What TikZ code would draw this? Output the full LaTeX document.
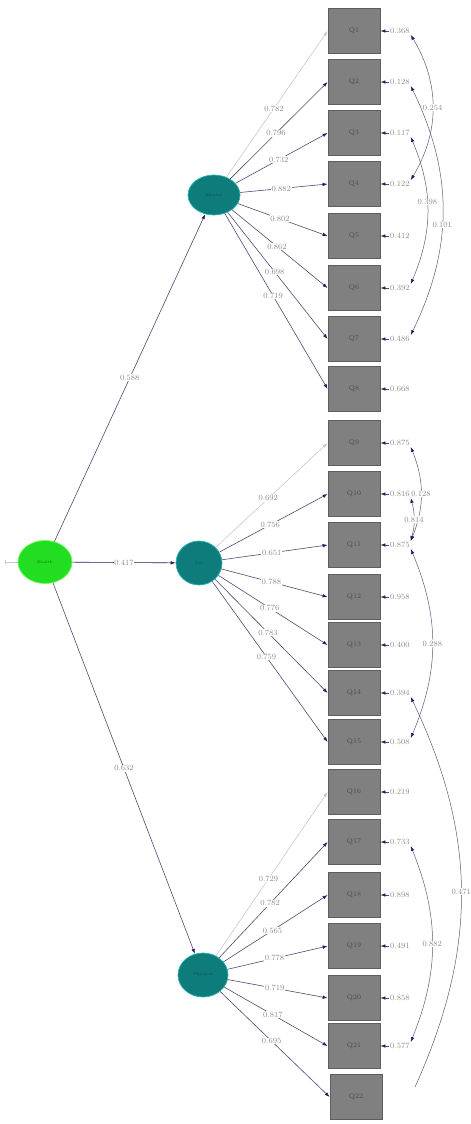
\documentclass[tikz,border=0pt]{standalone}
\usetikzlibrary{arrows.meta,shapes.geometric}
\definecolor{boxgray}{HTML}{808080}
\definecolor{boxedge}{HTML}{5E5E5E}
\definecolor{boxtext}{HTML}{4A4A4A}
\definecolor{latfill}{HTML}{0E7C7B}
\definecolor{latedge}{HTML}{2BB3B3}
\definecolor{lattext}{HTML}{0A4A4A}
\definecolor{exofill}{HTML}{22DD22}
\definecolor{exoedge}{HTML}{66FF55}
\definecolor{exotext}{HTML}{127012}
\definecolor{loadcol}{HTML}{4B4B78}
\definecolor{fixcol}{HTML}{C8C8C8}
\definecolor{arrnavy}{HTML}{20205A}
\definecolor{labgray}{HTML}{8C8C8C}
\definecolor{covcol}{HTML}{5A5A80}
\tikzset{navyhead/.tip={Latex[length=5pt,width=3.5pt,color=arrnavy]},
  grayhead/.tip={Latex[length=5pt,width=3.5pt,color=fixcol]}}
\begin{document}
\begin{tikzpicture}[x=1pt,y=-1pt,
  obsbox/.style={draw=boxedge,fill=boxgray,line width=0.8pt,minimum width=52pt,minimum height=45pt,inner sep=0pt,font=\fontsize{7}{8}\selectfont,text=boxtext},
  latent/.style={ellipse,draw=latedge,fill=latfill,line width=0.7pt,inner sep=0pt,font=\fontsize{4}{5}\selectfont,text=lattext},
  exogen/.style={ellipse,draw=exoedge,fill=exofill,line width=0.7pt,inner sep=0pt,minimum width=54pt,minimum height=43pt,font=\fontsize{4}{5}\selectfont,text=exotext},
  lab/.style={fill=white,inner sep=0.6pt,font=\fontsize{8}{9}\selectfont,text=labgray},
  errlab/.style={anchor=west,inner sep=1pt,font=\fontsize{8}{9}\selectfont,text=labgray},
  loadline/.style={draw=loadcol,line width=0.6pt,-navyhead},
  fixline/.style={draw=fixcol,line width=0.6pt,-grayhead},
  errline/.style={draw=loadcol,line width=0.6pt,-navyhead},
  covline/.style={draw=covcol,line width=0.5pt,navyhead-navyhead}]
\useasboundingbox (0,0) rectangle (471,1124);
\node[obsbox] (Q1) at (354,31) {Q1};
\node[obsbox] (Q2) at (354,82) {Q2};
\node[obsbox] (Q3) at (354,133) {Q3};
\node[obsbox] (Q4) at (354,184) {Q4};
\node[obsbox] (Q5) at (354,236) {Q5};
\node[obsbox] (Q6) at (354,288) {Q6};
\node[obsbox] (Q7) at (354,339) {Q7};
\node[obsbox] (Q8) at (354,389) {Q8};
\node[obsbox] (Q9) at (354,443) {Q9};
\node[obsbox] (Q10) at (354,494) {Q10};
\node[obsbox] (Q11) at (354,545) {Q11};
\node[obsbox] (Q12) at (354,597) {Q12};
\node[obsbox] (Q13) at (354,645) {Q13};
\node[obsbox] (Q14) at (354,693) {Q14};
\node[obsbox] (Q15) at (354,742) {Q15};
\node[obsbox] (Q16) at (354,792) {Q16};
\node[obsbox] (Q17) at (354,842) {Q17};
\node[obsbox] (Q18) at (354,895) {Q18};
\node[obsbox] (Q19) at (354,946) {Q19};
\node[obsbox] (Q20) at (354,998) {Q20};
\node[obsbox] (Q21) at (354,1046) {Q21};
\node[obsbox] (Q22) at (356,1097) {Q22};
\node[latent,minimum width=52pt,minimum height=40pt] (mental) at (214,195) {Mental};
\node[latent,minimum width=46pt,minimum height=44pt] (social) at (199,563) {Soc};
\node[latent,minimum width=50pt,minimum height=44pt] (physical) at (203,975) {Physical};
\node[exogen] (health) at (45,562) {Health};
\coordinate (stub) at (5,562);
\draw[draw=fixcol,line width=0.6pt,{Bar[width=4pt]}-] (stub) -- (health);
\draw[loadline] (health) -- node[lab] {0.588} (mental);
\draw[loadline,draw=arrnavy] (health) -- node[lab] {0.417} (social);
\draw[loadline] (health) -- node[lab] {0.632} (physical);
\draw[fixline] (mental) -- node[lab,pos=0.47] {0.782} (Q1.west);
\draw[loadline] (mental) -- node[lab,pos=0.47] {0.796} (Q2.west);
\draw[loadline] (mental) -- node[lab,pos=0.47] {0.732} (Q3.west);
\draw[loadline] (mental) -- node[lab,pos=0.47] {0.882} (Q4.west);
\draw[loadline] (mental) -- node[lab,pos=0.47] {0.802} (Q5.west);
\draw[loadline] (mental) -- node[lab,pos=0.47] {0.862} (Q6.west);
\draw[loadline] (mental) -- node[lab,pos=0.47] {0.698} (Q7.west);
\draw[loadline] (mental) -- node[lab,pos=0.47] {0.719} (Q8.west);
\draw[fixline] (social) -- node[lab,pos=0.47] {0.692} (Q9.west);
\draw[loadline] (social) -- node[lab,pos=0.47] {0.756} (Q10.west);
\draw[loadline] (social) -- node[lab,pos=0.47] {0.651} (Q11.west);
\draw[loadline] (social) -- node[lab,pos=0.47] {0.788} (Q12.west);
\draw[loadline] (social) -- node[lab,pos=0.47] {0.776} (Q13.west);
\draw[loadline] (social) -- node[lab,pos=0.47] {0.783} (Q14.west);
\draw[loadline] (social) -- node[lab,pos=0.47] {0.759} (Q15.west);
\draw[fixline] (physical) -- node[lab,pos=0.47] {0.729} (Q16.west);
\draw[loadline] (physical) -- node[lab,pos=0.47] {0.782} (Q17.west);
\draw[loadline] (physical) -- node[lab,pos=0.47] {0.565} (Q18.west);
\draw[loadline] (physical) -- node[lab,pos=0.47] {0.778} (Q19.west);
\draw[loadline] (physical) -- node[lab,pos=0.47] {0.719} (Q20.west);
\draw[loadline] (physical) -- node[lab,pos=0.47] {0.817} (Q21.west);
\draw[loadline] (physical) -- node[lab,pos=0.47] {0.695} (Q22.west);
\node[errlab] (e1) at (389,31) {0.368};
\node[errlab] (e2) at (389,82) {0.128};
\node[errlab] (e3) at (389,133) {0.117};
\node[errlab] (e4) at (389,184) {0.122};
\node[errlab] (e5) at (389,236) {0.412};
\node[errlab] (e6) at (389,288) {0.392};
\node[errlab] (e7) at (389,339) {0.486};
\node[errlab] (e8) at (389,389) {0.668};
\node[errlab] (e9) at (389,443) {0.875};
\node[errlab] (e10) at (389,494) {0.816};
\node[errlab] (e11) at (389,545) {0.875};
\node[errlab] (e12) at (389,597) {0.958};
\node[errlab] (e13) at (389,645) {0.400};
\node[errlab] (e14) at (389,693) {0.394};
\node[errlab] (e15) at (389,742) {0.508};
\node[errlab] (e16) at (389,792) {0.219};
\node[errlab] (e17) at (389,842) {0.733};
\node[errlab] (e18) at (389,895) {0.898};
\node[errlab] (e19) at (389,946) {0.491};
\node[errlab] (e20) at (389,998) {0.858};
\node[errlab] (e21) at (389,1046) {0.577};
\coordinate (q22cov) at (415,1087);
\draw[errline] (e1.west) -- (Q1.east);
\draw[errline] (e2.west) -- (Q2.east);
\draw[errline] (e3.west) -- (Q3.east);
\draw[errline] (e4.west) -- (Q4.east);
\draw[errline] (e5.west) -- (Q5.east);
\draw[errline] (e6.west) -- (Q6.east);
\draw[errline] (e7.west) -- (Q7.east);
\draw[errline] (e8.west) -- (Q8.east);
\draw[errline] (e9.west) -- (Q9.east);
\draw[errline] (e10.west) -- (Q10.east);
\draw[errline] (e11.west) -- (Q11.east);
\draw[errline] (e12.west) -- (Q12.east);
\draw[errline] (e13.west) -- (Q13.east);
\draw[errline] (e14.west) -- (Q14.east);
\draw[errline] (e15.west) -- (Q15.east);
\draw[errline] (e16.west) -- (Q16.east);
\draw[errline] (e17.west) -- (Q17.east);
\draw[errline] (e18.west) -- (Q18.east);
\draw[errline] (e19.west) -- (Q19.east);
\draw[errline] (e20.west) -- (Q20.east);
\draw[errline] (e21.west) -- (Q21.east);
\draw[covline] (e1.south east) to[bend left=31] node[lab] {0.254} (e4.north east);
\draw[covline] (e2.south east) to[bend left=26] node[lab,pos=0.56] {0.101} (e7.north east);
\draw[covline] (e3.south east) to[bend left=23] node[lab,pos=0.44] {0.398} (e6.north east);
\draw[covline] (e9.south east) to[bend left=22] node[lab] {0.128} (e11.north east);
\draw[covline] (e10.south east) to[bend left=15] node[lab] {0.814} (e11.north east);
\draw[covline] (e11.south east) to[bend left=23] node[lab] {0.288} (e15.north east);
\draw[covline,navyhead-] (e14.south east) to[bend left=25] node[lab] {0.471} (q22cov);
\draw[covline] (e17.south east) to[bend left=22] node[lab] {0.882} (e21.north east);
\end{tikzpicture}
\end{document}
